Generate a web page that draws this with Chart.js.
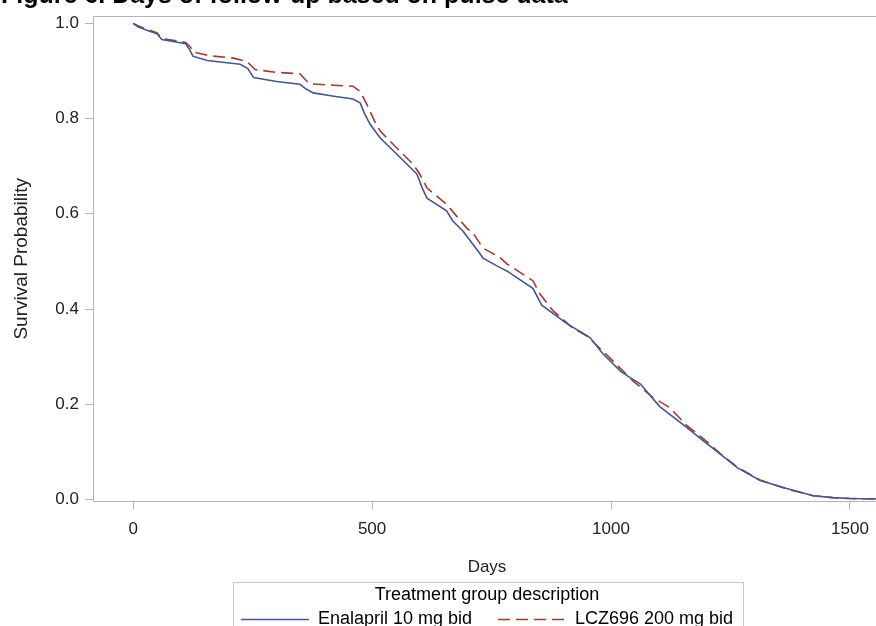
<!DOCTYPE html>
<html>
<head>
    <style>
        body {
            margin: 0;
            overflow: hidden;
            background: #fff;
        }
        #wrap {
            position: absolute;
            left: 0;
            top: 0;
            width: 881px;
            height: 638px;
        }
    </style>
    <script src="https://cdn.jsdelivr.net/npm/chart.js"></script>
</head>
<body>
    <div id="wrap"><canvas id="myChart"></canvas></div>
    <script>
        // values
        var titleText = 'Figure 6. Days of follow-up based on pulse data';
        var seriesNames = ['Enalapril 10 mg bid', 'LCZ696 200 mg bid'];

        var enalaprilDays = [0, 10, 30, 50, 60, 110, 118, 125, 155, 224, 240, 252, 300, 349, 362, 377, 420, 460, 475, 485, 496, 517, 552, 594, 605, 615, 656, 669, 690, 726, 732, 768, 782, 837, 855, 907, 956, 983, 1019, 1040, 1061, 1102, 1159, 1192, 1228, 1264, 1312, 1368, 1423, 1464, 1500, 1565];
        var enalaprilSurv = [1.0, 0.993, 0.985, 0.978, 0.966, 0.957, 0.945, 0.931, 0.922, 0.914, 0.905, 0.886, 0.878, 0.872, 0.862, 0.854, 0.847, 0.841, 0.833, 0.809, 0.788, 0.759, 0.725, 0.683, 0.654, 0.633, 0.606, 0.585, 0.564, 0.516, 0.507, 0.487, 0.48, 0.443, 0.408, 0.37, 0.34, 0.306, 0.27, 0.256, 0.243, 0.195, 0.151, 0.124, 0.096, 0.067, 0.04, 0.023, 0.008, 0.004, 0.002, 0.001];

        var lczDays = [0, 10, 30, 50, 60, 110, 120, 126, 160, 210, 238, 255, 300, 349, 360, 370, 420, 460, 475, 489, 505, 517, 544, 586, 600, 615, 656, 698, 711, 732, 768, 782, 837, 851, 879, 920, 949, 997, 1046, 1088, 1123, 1159, 1200, 1228, 1264, 1312, 1368, 1423, 1464, 1500, 1565];
        var lczSurv = [1.0, 0.995, 0.987, 0.98, 0.968, 0.96, 0.95, 0.94, 0.932, 0.927, 0.92, 0.903, 0.897, 0.894, 0.882, 0.873, 0.87, 0.868, 0.857, 0.83, 0.795, 0.774, 0.746, 0.704, 0.683, 0.654, 0.62, 0.57, 0.56, 0.528, 0.508, 0.495, 0.459, 0.432, 0.396, 0.36, 0.344, 0.298, 0.249, 0.214, 0.193, 0.155, 0.122, 0.097, 0.068, 0.041, 0.022, 0.008, 0.004, 0.002, 0.001];

        var xTicks = [0, 500, 1000, 1500];
        var yTicks = [0, 0.2, 0.4, 0.6, 0.8, 1.0];

        function toPoints(xs, ys) {
            return xs.map(function(x, i) { return {x: x, y: ys[i]}; });
        }

        var frameColor = '#b4b4b4';
        var textColor = '#222';
        var fontFamily = '"Liberation Sans", Arial, sans-serif';
        var legendFontSize = 18;
        var sampleWidth = 68;

        // plot frame, legend border + line samples, and the clipped figure title
        var decor = {
            id: 'decor',
            afterDraw: function(chart) {
                var ctx = chart.ctx;
                var a = chart.chartArea;
                ctx.save();
                ctx.strokeStyle = frameColor;
                ctx.lineWidth = 1;
                ctx.strokeRect(Math.round(a.left) + 0.5, Math.round(a.top) + 0.5,
                    Math.round(a.right - a.left), Math.round(a.bottom - a.top));

                var lg = chart.legend;
                if (lg && lg.legendHitBoxes.length) {
                    var l = Infinity, r = -Infinity;
                    lg.legendHitBoxes.forEach(function(h, i) {
                        l = Math.min(l, h.left);
                        r = Math.max(r, h.left + h.width);
                        var ds = chart.data.datasets[i];
                        var y = Math.round(h.top + legendFontSize / 2) + 0.5;
                        ctx.strokeStyle = ds.borderColor;
                        ctx.lineWidth = 1.3;
                        ctx.setLineDash(ds.borderDash || []);
                        ctx.beginPath();
                        ctx.moveTo(h.left, y);
                        ctx.lineTo(h.left + sampleWidth, y);
                        ctx.stroke();
                    });
                    ctx.setLineDash([]);
                    ctx.lineWidth = 1;
                    ctx.strokeStyle = '#c8c8c8';
                    ctx.strokeRect(Math.round(l - 8) + 0.5, Math.round(lg.top + 1) + 0.5,
                        Math.round(r - l + 18), 100);
                }

                ctx.fillStyle = '#000';
                ctx.font = 'bold 25px ' + fontFamily;
                ctx.textBaseline = 'alphabetic';
                ctx.textAlign = 'left';
                ctx.fillText(titleText, 1, 3);
                ctx.restore();
            }
        };

        var ctx = document.getElementById('myChart').getContext('2d');
        var myChart = new Chart(ctx, {
            type: 'line',
            data: {
                datasets: [{
                    label: seriesNames[0],
                    data: toPoints(enalaprilDays, enalaprilSurv),
                    borderColor: '#445694',
                    backgroundColor: '#445694',
                    borderWidth: 1.6,
                    pointRadius: 0,
                    tension: 0
                }, {
                    label: seriesNames[1],
                    data: toPoints(lczDays, lczSurv),
                    borderColor: '#A23A2E',
                    backgroundColor: '#A23A2E',
                    borderWidth: 1.6,
                    borderDash: [12, 6],
                    pointRadius: 0,
                    tension: 0
                }]
            },
            options: {
                responsive: true,
                maintainAspectRatio: false,
                animation: false,
                layout: {
                    padding: {top: 15, left: 0, right: 0, bottom: 0}
                },
                scales: {
                    x: {
                        type: 'linear',
                        min: -84,
                        max: 1565,
                        afterBuildTicks: function(scale) {
                            scale.ticks = xTicks.map(function(v) { return {value: v}; });
                        },
                        afterFit: function(scale) { scale.height = 80; },
                        border: {display: false},
                        grid: {
                            drawOnChartArea: false,
                            drawTicks: true,
                            tickLength: 8,
                            color: frameColor
                        },
                        ticks: {
                            color: textColor,
                            padding: 10,
                            maxRotation: 0,
                            font: {family: fontFamily, size: 17},
                            callback: function(v) { return String(v); }
                        },
                        title: {
                            display: true,
                            text: 'Days',
                            color: textColor,
                            padding: {top: 0, bottom: 4},
                            font: {family: fontFamily, size: 17}
                        }
                    },
                    y: {
                        min: -0.004,
                        max: 1.015,
                        afterBuildTicks: function(scale) {
                            scale.ticks = yTicks.map(function(v) { return {value: v}; });
                        },
                        afterFit: function(scale) { scale.width = 93; },
                        border: {display: false},
                        grid: {
                            drawOnChartArea: false,
                            drawTicks: true,
                            tickLength: 8,
                            color: frameColor
                        },
                        ticks: {
                            color: textColor,
                            padding: 6,
                            font: {family: fontFamily, size: 17},
                            callback: function(v) { return v.toFixed(1); }
                        },
                        title: {
                            display: true,
                            text: 'Survival Probability',
                            color: textColor,
                            padding: {top: 10, bottom: 0},
                            font: {family: fontFamily, size: 19}
                        }
                    }
                },
                plugins: {
                    tooltip: {enabled: false},
                    legend: {
                        position: 'bottom',
                        fullSize: false,
                        title: {
                            display: true,
                            text: 'Treatment group description',
                            color: '#000',
                            padding: {top: 5, bottom: -24},
                            font: {family: fontFamily, size: 18}
                        },
                        labels: {
                            usePointStyle: true,
                            pointStyle: 'line',
                            pointStyleWidth: sampleWidth,
                            boxHeight: legendFontSize,
                            padding: 26,
                            color: '#000',
                            font: {family: fontFamily, size: legendFontSize},
                            generateLabels: function(chart) {
                                // samples are drawn by the decor plugin so the dash shows
                                return Chart.defaults.plugins.legend.labels.generateLabels(chart).map(function(item) {
                                    item.strokeStyle = 'rgba(0,0,0,0)';
                                    item.fillStyle = 'rgba(0,0,0,0)';
                                    return item;
                                });
                            }
                        }
                    }
                }
            },
            plugins: [decor]
        });
    </script>
</body>
</html>
